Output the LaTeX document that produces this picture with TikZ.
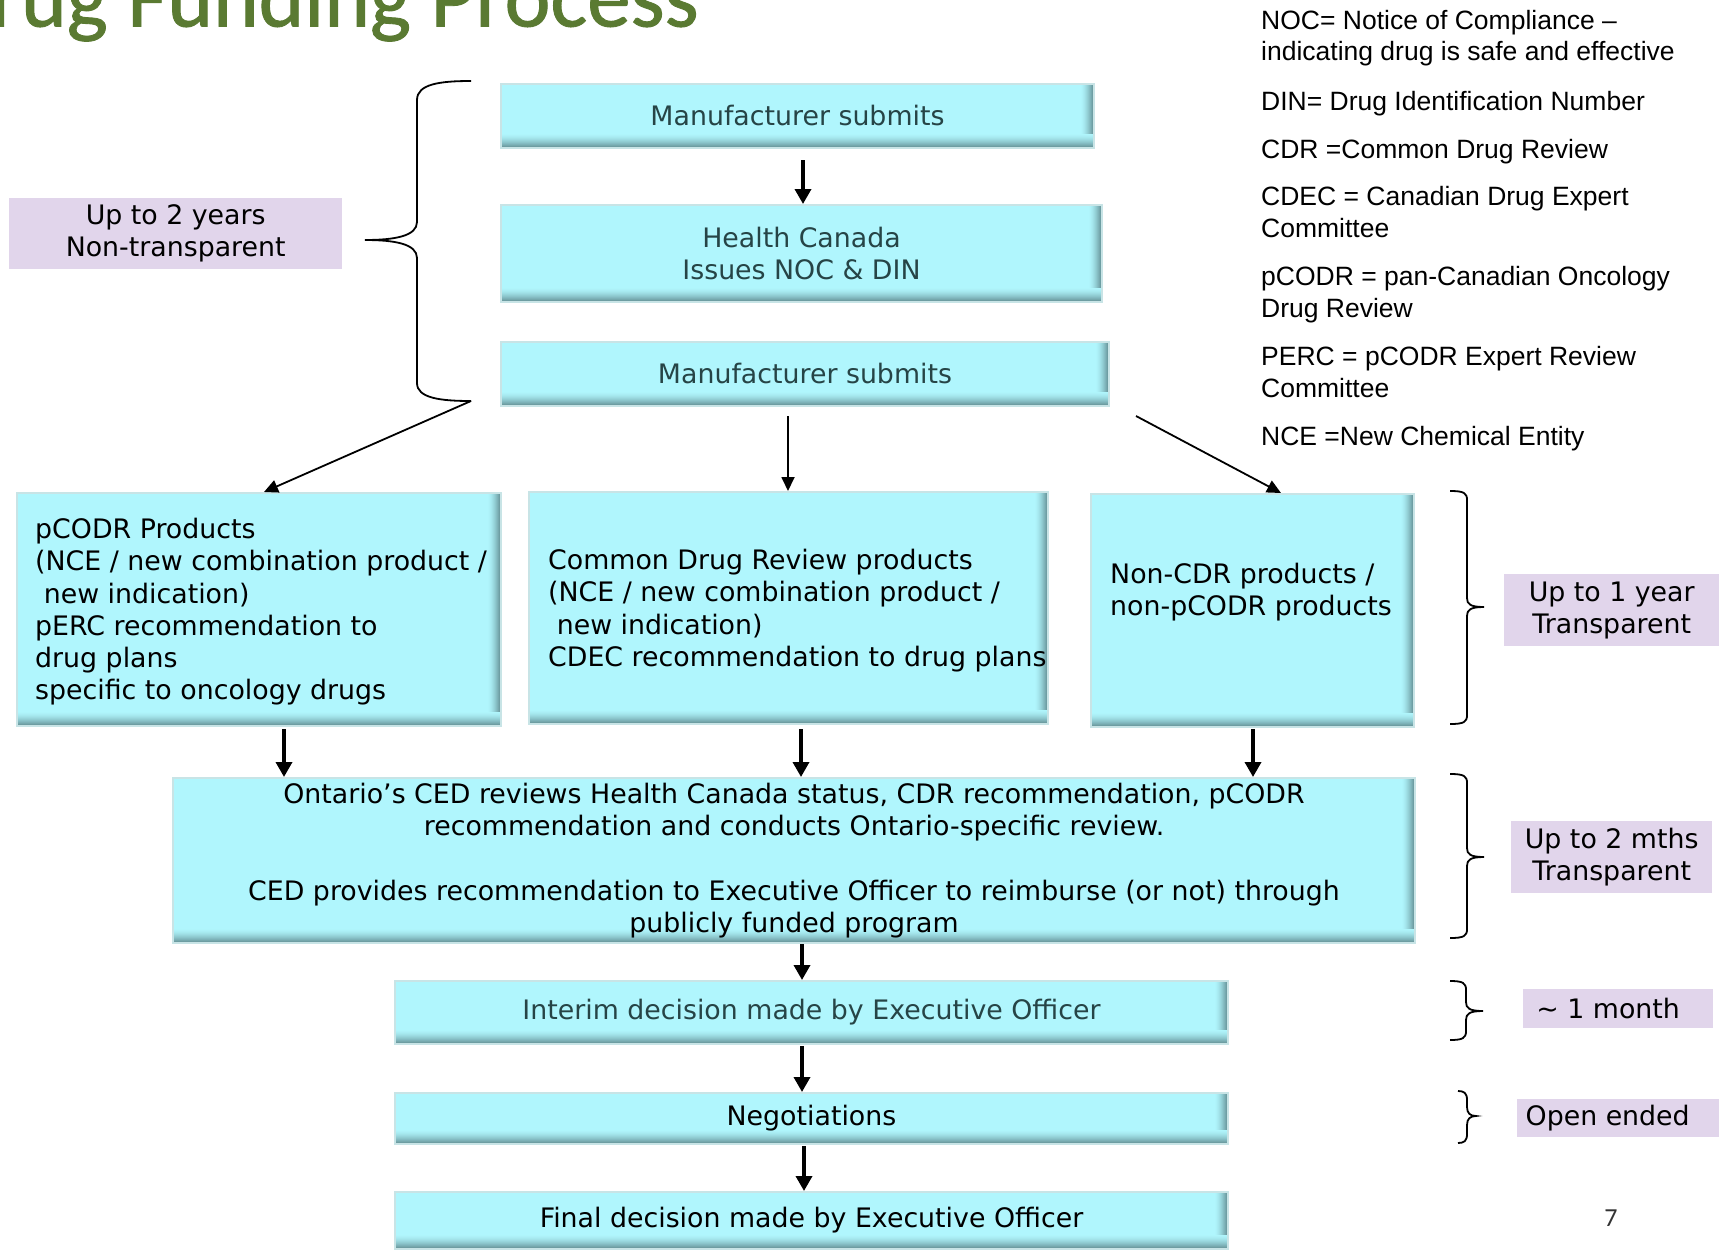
\documentclass[tikz,border=0pt]{standalone}
\usepackage{fontspec}
\setmainfont{DejaVu Sans}
\newfontfamily\legfont{Liberation Sans}
\newfontfamily\ttlfont[FakeBold=1]{Carlito}
\newfontfamily\pgfont{Carlito}
\usetikzlibrary{arrows.meta}
\definecolor{boxc}{RGB}{176,246,253}
\definecolor{boxd}{RGB}{88,128,133}
\definecolor{boxe}{RGB}{200,228,230}
\definecolor{lav}{RGB}{225,213,235}
\definecolor{ttl}{RGB}{90,122,50}
\definecolor{slate}{RGB}{38,68,70}
\newcommand\rbr[6]{% end x, vertical x, tip x, top y, tip y, bottom y
\draw[brace] (#1,#4) .. controls ({#2-3},#4) and (#2,{#4+2}) .. (#2,{#4+9}) -- (#2,{#5-9}) .. controls (#2,{#5-3}) and ({#2+3},#5) .. (#3,#5) .. controls ({#2+3},#5) and (#2,{#5+3}) .. (#2,{#5+9}) -- (#2,{#6-9}) .. controls (#2,{#6-2}) and ({#2-3},#6) .. (#1,#6);}
\begin{document}
\begin{tikzpicture}[x=1pt,y=-1pt,
  every node/.style={font=\fontsize{26.8}{32.2}\selectfont, inner sep=0pt},
  cbox/.style={draw=boxe, line width=2pt, fill=boxc, anchor=north west, align=center,
    path picture={
      \foreach \i in {0,...,12}{
        \pgfmathsetmacro\p{85*((\i+1)/13)^1.6}
        \fill[boxd!\p!boxc] ([xshift={-13pt+\i pt}]path picture bounding box.north east) rectangle ([xshift={-12pt+\i pt}]path picture bounding box.south east);
      }
      \foreach \i in {0,...,13}{
        \pgfmathsetmacro\p{85*((\i+1)/14)^1.6}
        \fill[boxd!\p!boxc] ([yshift={14pt-\i pt}]path picture bounding box.south west) rectangle ([yshift={13pt-\i pt}]path picture bounding box.south east);
      }
    }},
  lbox/.style={fill=lav, anchor=north west},
  tarrow/.style={line width=3.5pt, -{Triangle[length=15pt,width=16pt]}},
  narrow/.style={line width=1.8pt, -{Triangle[length=14pt,width=13pt]}},
  brace/.style={line width=1.8pt},
  leg/.style={font=\legfont\fontsize{26.5}{32}\selectfont, anchor=base west},
]
\useasboundingbox (0,0) rectangle (1721,1250);
\fill[white] (0,0) rectangle (1721,1250);
\clip (0,0) rectangle (1721,1250);

% title
\node[font=\ttlfont\fontsize{87}{87}\selectfont, text=ttl, anchor=base west] (title) at (-63,26.5) {Drug Funding Process};

% legend
\node[leg] (g1) at (1261,29.5) {NOC= Notice of Compliance –};
\node[leg] (g2) at (1261,60) {indicating drug is safe and effective};
\node[leg] (g3) at (1261,110) {DIN= Drug Identification Number};
\node[leg] (g4) at (1261,158.5) {CDR =Common Drug Review};
\node[leg] (g5) at (1261,205) {CDEC = Canadian Drug Expert};
\node[leg] (g6) at (1261,237) {Committee};
\node[leg] (g7) at (1261,285.5) {pCODR = pan-Canadian Oncology};
\node[leg] (g8) at (1261,317) {Drug Review};
\node[leg] (g9) at (1261,365) {PERC = pCODR Expert Review};
\node[leg] (g10) at (1261,397) {Committee};
\node[leg] (g11) at (1261,445) {NCE =New Chemical Entity};

% boxes
\node[cbox, minimum width=593pt, minimum height=64pt, text=slate] (b1) at (500,83) {Manufacturer submits};
\node[cbox, minimum width=601pt, minimum height=97pt, text=slate] (b2) at (500,204) {Health Canada\\Issues NOC \& DIN};
\node[cbox, minimum width=608pt, minimum height=64pt, text=slate] (b3) at (500,341) {Manufacturer submits};
\node[cbox, minimum width=484pt, minimum height=233pt] (b4) at (16,492) {};
\node[cbox, minimum width=519pt, minimum height=232pt] (b5) at (528,491) {};
\node[cbox, minimum width=323pt, minimum height=233pt] (b6) at (1090,493) {};
\node[cbox, minimum width=1242pt, minimum height=165pt] (b7) at (172,777) {Ontario’s CED reviews Health Canada status, CDR recommendation, pCODR\\recommendation and conducts Ontario-specific review.\\[32.2pt]CED provides recommendation to Executive Officer to reimburse (or not) through\\publicly funded program};
\node[cbox, minimum width=833pt, minimum height=63pt, text=slate] (b8) at (394,980) {Interim decision made by Executive Officer};
\node[cbox, minimum width=833pt, minimum height=51pt] (b9) at (394,1092) {Negotiations};
\node[cbox, minimum width=833pt, minimum height=57pt] (b10) at (394,1191) {Final decision made by Executive Officer};

% box texts
\node[anchor=west, align=left] (t4) at (35,611.7) {pCODR Products\\(NCE / new combination product /\\\hspace*{8.6pt}new indication)\\pERC recommendation to\\drug plans\\specific to oncology drugs};
\node[anchor=west, align=left] (t5) at (548,610.5) {Common Drug Review products\\(NCE / new combination product /\\\hspace*{8.6pt}new indication)\\CDEC recommendation to drug plans};
\node[anchor=west, align=left] (t6) at (1110,592) {Non-CDR products /\\non-pCODR products};

% lavender labels
\node[lbox, align=center, minimum width=333pt, minimum height=71pt] (l1) at (9,198) {Up to 2 years\\Non-transparent};
\node[lbox, align=center, minimum width=215pt, minimum height=72pt] (l2) at (1504,574) {Up to 1 year\\Transparent};
\node[lbox, align=center, minimum width=201pt, minimum height=72pt] (l3) at (1511,821) {Up to 2 mths\\Transparent};
\node[lbox, minimum width=190pt, minimum height=39pt] (l4) at (1523,989) {\textasciitilde{} 1 month\hspace*{20pt}};
\node[lbox, minimum width=202pt, minimum height=38pt] (l5) at (1517,1099) {Open ended\hspace*{21pt}};

% page number
\node[font=\pgfont\fontsize{26}{26}\selectfont, text=black!80] (pg) at (1611,1218) {7};

% braces
\coordinate (bl0) at (471,81);
\coordinate (bl) at (471,401);
\draw[brace] (bl0) .. controls (440,81) and (417,84) .. (417,100) -- (417,222) .. controls (417,236) and (395,240) .. (365,240) .. controls (395,240) and (417,244) .. (417,258) -- (417,383) .. controls (417,398) and (440,401) .. (bl);
\rbr{1450}{1467}{1484}{491}{607}{724}
\rbr{1450}{1467}{1484}{774}{857}{938}
\rbr{1450}{1466}{1483}{981}{1011}{1040}
\rbr{1458}{1467}{1476}{1091}{1116}{1143}

% arrows
\coordinate (s1) at (803,160);
\draw[tarrow] (s1) -- (s1 |- b2.north);
\coordinate (m1) at (788,416);
\coordinate (r1) at (1136,416);
\draw[narrow] (bl) -- ([xshift=5pt]b4.north);
\draw[narrow] (m1) -- (m1 |- b5.north);
\draw[narrow] (r1) -- ([xshift=28.5pt]b6.north);
\coordinate (s4) at (284,729);
\coordinate (s5) at (801,729);
\coordinate (s6) at (1253,729);
\draw[tarrow] (s4) -- (s4 |- b7.north);
\draw[tarrow] (s5) -- (s5 |- b7.north);
\draw[tarrow] (s6) -- (s6 |- b7.north);
\coordinate (s7) at (802,944);
\coordinate (s8) at (802,1046);
\coordinate (s9) at (804,1146);
\draw[tarrow] (s7) -- (s7 |- b8.north);
\draw[tarrow] (s8) -- (s8 |- b9.north);
\draw[tarrow] (s9) -- (s9 |- b10.north);
\end{tikzpicture}
\end{document}
